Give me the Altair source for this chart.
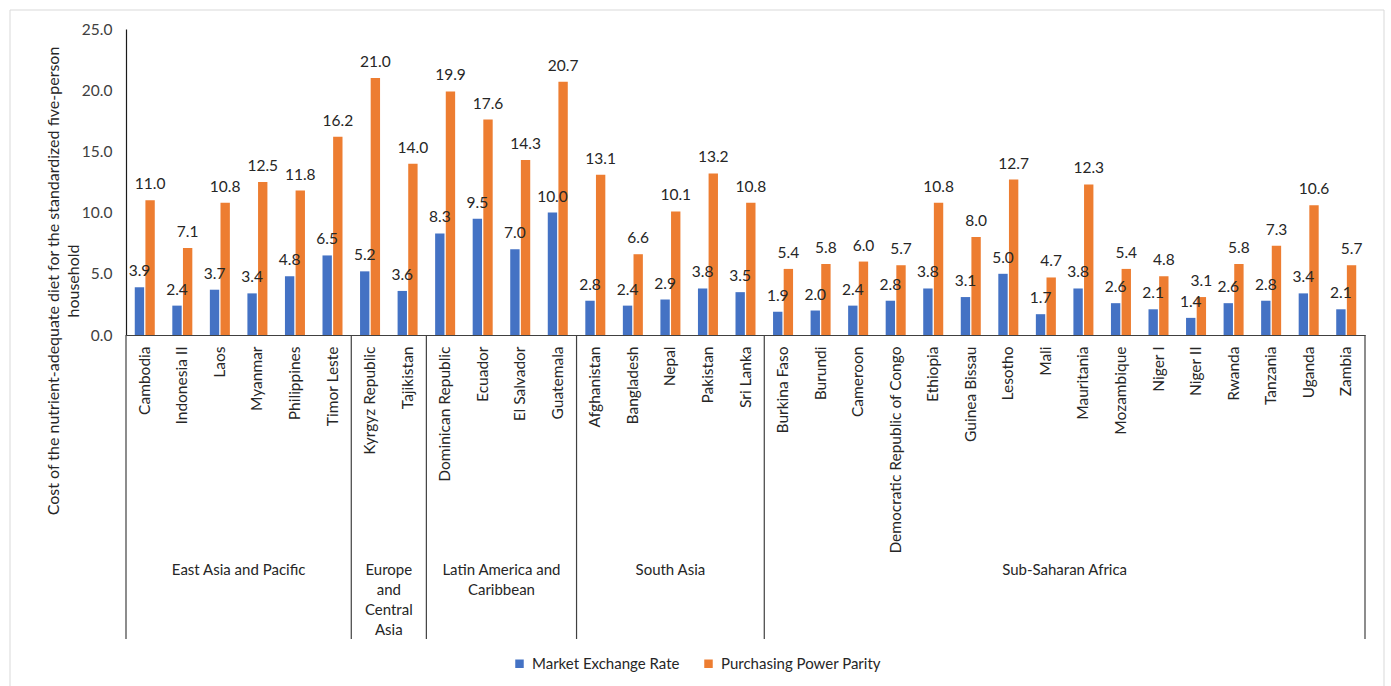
import altair as alt
import pandas as pd

# Countries in display order, grouped by region
countries = [
    "Cambodia", "Indonesia II", "Laos", "Myanmar", "Philippines", "Timor Leste",
    "Kyrgyz Republic", "Tajikistan",
    "Dominican Republic", "Ecuador", "El Salvador", "Guatemala",
    "Afghanistan", "Bangladesh", "Nepal", "Pakistan", "Sri Lanka",
    "Burkina Faso", "Burundi", "Cameroon", "Democratic Republic of Congo", "Ethiopia",
    "Guinea Bissau", "Lesotho", "Mali", "Mauritania", "Mozambique", "Niger I",
    "Niger II", "Rwanda", "Tanzania", "Uganda", "Zambia",
]

# Region labels as they wrap under each bracket, and how many countries each holds
region_labels = [
    "East Asia and Pacific",
    "Europe\nand\nCentral\nAsia",
    "Latin America and\nCaribbean",
    "South Asia",
    "Sub-Saharan Africa",
]
region_sizes = [6, 2, 4, 5, 16]

market_exchange = [
    3.9, 2.4, 3.7, 3.4, 4.8, 6.5,
    5.2, 3.6,
    8.3, 9.5, 7.0, 10.0,
    2.8, 2.4, 2.9, 3.8, 3.5,
    1.9, 2.0, 2.4, 2.8, 3.8, 3.1, 5.0, 1.7, 3.8, 2.6, 2.1, 1.4, 2.6, 2.8, 3.4, 2.1,
]
purchasing_power = [
    11.0, 7.1, 10.8, 12.5, 11.8, 16.2,
    21.0, 14.0,
    19.9, 17.6, 14.3, 20.7,
    13.1, 6.6, 10.1, 13.2, 10.8,
    5.4, 5.8, 6.0, 5.7, 10.8, 8.0, 12.7, 4.7, 12.3, 5.4, 4.8, 3.1, 5.8, 7.3, 10.6, 5.7,
]

series_names = ["Market Exchange Rate", "Purchasing Power Parity"]
series_colors = ["#4472C4", "#ED7D31"]
y_ticks = [0, 5, 10, 15, 20, 25]
y_title = "Cost of the nutrient-adequate diet for the standardized five-person\nhousehold"

FONT = "Lato"
TEXT = "#262626"
AXIS = "#404040"
W, H = 1239, 306
BRACKET = 304  # depth of the region brackets below the axis

# Long table for the clustered bars
rows = []
for c, m, p in zip(countries, market_exchange, purchasing_power):
    rows.append({"country": c, "series": series_names[0], "value": m})
    rows.append({"country": c, "series": series_names[1], "value": p})
bars_df = pd.DataFrame(rows)

# Region bracket edges and centres, in country-slot units
edges = [0]
for n in region_sizes:
    edges.append(edges[-1] + n)
edges_df = pd.DataFrame({"pos": edges})
regions_df = pd.DataFrame({
    "mid": [(a + b) / 2 for a, b in zip(edges[:-1], edges[1:])],
    "label": region_labels,
})

x_band = alt.X(
    "country:N", sort=countries,
    scale=alt.Scale(paddingInner=0.467, paddingOuter=0.2335),
    axis=alt.Axis(
        title=None, labelAngle=-90, ticks=False, tickSize=0, labelPadding=11,
        labelFont=FONT, labelFontSize=15.5, labelColor=TEXT, labelLimit=400,
        labelOverlap=False, domainColor=AXIS, domainWidth=1.2,
    ),
)
x_offset = alt.XOffset("series:N", sort=series_names, scale=alt.Scale(paddingInner=0.12))
y_val = alt.Y(
    "value:Q",
    scale=alt.Scale(domain=[0, 25], nice=False),
    axis=alt.Axis(
        title=None, values=y_ticks, format=".1f", grid=False, ticks=False, tickSize=0,
        labelPadding=14, labelFont=FONT, labelFontSize=15.5, labelColor=AXIS,
        domainColor="#1a1a1a", domainWidth=1.2,
    ),
)

bars = alt.Chart(bars_df).mark_bar().encode(
    x=x_band,
    xOffset=x_offset,
    y=y_val,
    color=alt.Color(
        "series:N",
        scale=alt.Scale(domain=series_names, range=series_colors),
        legend=alt.Legend(
            title=None, orient="none", legendX=386, legendY=627, direction="horizontal",
            symbolType="square", symbolSize=72, symbolStrokeWidth=0, labelOffset=5,
            labelFont=FONT, labelFontSize=15, labelColor=TEXT, columnPadding=21,
        ),
    ),
)

value_labels = alt.Chart(bars_df).mark_text(
    dy=-11, baseline="alphabetic", font=FONT, fontSize=15.5, color=TEXT
).encode(
    x=x_band,
    xOffset=x_offset,
    y=y_val,
    text=alt.Text("value:Q", format=".1f"),
)

slot_x = alt.Scale(domain=[0, len(countries)], nice=False, zero=False)

separators = alt.Chart(edges_df).mark_rule(color=AXIS, strokeWidth=1.2).encode(
    x=alt.X("pos:Q", scale=slot_x, axis=None),
    y=alt.value(H),
    y2=alt.value(H + BRACKET),
)

region_text = alt.Chart(regions_df).mark_text(
    baseline="top", align="center", lineBreak="\n", lineHeight=20,
    font=FONT, fontSize=15, color=TEXT,
).encode(
    x=alt.X("mid:Q", scale=slot_x, axis=None),
    y=alt.value(H + 228),
    text="label:N",
)

title_text = alt.Chart(pd.DataFrame({"t": [y_title]})).mark_text(
    angle=270, align="center", baseline="middle", lineBreak="\n", lineHeight=20,
    font=FONT, fontSize=16, color=TEXT,
).encode(
    x=alt.value(-72),
    y=alt.value(252),
    text="t:N",
)

frame = alt.Chart(pd.DataFrame({"k": [0]})).mark_rect(
    fill="transparent", stroke="#d9d9d9", strokeWidth=1
).encode(
    x=alt.value(-116), x2=alt.value(1258),
    y=alt.value(-19), y2=alt.value(720),
)

chart = alt.layer(
    alt.layer(bars, value_labels),
    separators,
    region_text,
    title_text,
    frame,
).resolve_scale(x="independent").properties(
    width=W, height=H,
    autosize=alt.AutoSizeParams(type="none"),
    padding={"left": 126, "top": 29, "right": 26, "bottom": 351},
    background="white",
).configure_view(strokeWidth=0)

chart.save("out.html", embed_options={"renderer": "svg", "actions": False})
